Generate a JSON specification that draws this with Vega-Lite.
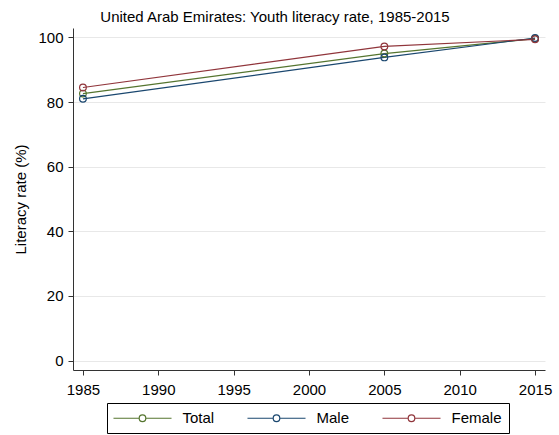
{
  "$schema": "https://vega.github.io/schema/vega-lite/v6.json",
  "width": 472,
  "height": 342,
  "autosize": {"type": "none"},
  "padding": {"left": 73, "top": 28, "right": 14, "bottom": 65},
  "background": "white",
  "title": {
    "text": "United Arab Emirates: Youth literacy rate, 1985-2015",
    "font": "Liberation Sans",
    "fontSize": 15,
    "fontWeight": "normal",
    "color": "black",
    "anchor": "middle",
    "frame": "group",
    "offset": 3,
    "dx": -34
  },
  "data": {
    "values": [
      {"year": 1985, "group": "Total", "rate": 82.6},
      {"year": 2005, "group": "Total", "rate": 95.0},
      {"year": 2015, "group": "Total", "rate": 99.6},
      {"year": 1985, "group": "Male", "rate": 81.0},
      {"year": 2005, "group": "Male", "rate": 93.8},
      {"year": 2015, "group": "Male", "rate": 99.8},
      {"year": 1985, "group": "Female", "rate": 84.5},
      {"year": 2005, "group": "Female", "rate": 97.2},
      {"year": 2015, "group": "Female", "rate": 99.4}
    ]
  },
  "mark": {
    "type": "line",
    "strokeWidth": 1.2,
    "point": {"filled": false, "size": 45, "strokeWidth": 1.2}
  },
  "encoding": {
    "x": {
      "field": "year",
      "type": "quantitative",
      "scale": {"domain": [1984.34, 2015.66], "nice": false, "zero": false},
      "axis": {
        "title": null,
        "values": [1985, 1990, 1995, 2000, 2005, 2010, 2015],
        "format": "d",
        "grid": false,
        "labelPadding": 7
      }
    },
    "y": {
      "field": "rate",
      "type": "quantitative",
      "scale": {"domain": [-2.9, 102.9], "nice": false, "zero": false},
      "axis": {
        "title": "Literacy rate (%)",
        "values": [0, 20, 40, 60, 80, 100],
        "grid": true,
        "labelPadding": 5,
        "titlePadding": 9
      }
    },
    "color": {
      "field": "group",
      "type": "nominal",
      "scale": {
        "domain": ["Total", "Male", "Female"],
        "range": ["#55752f", "#1a476f", "#90353b"]
      },
      "legend": {
        "title": null,
        "orient": "none",
        "legendX": 34,
        "legendY": 375,
        "direction": "horizontal",
        "symbolType": "M-3.87,0H-0.44M0.44,0H3.87M-0.44,0A0.44,0.44,0,1,0,0.44,0A0.44,0.44,0,1,0,-0.44,0",
        "symbolSize": 225,
        "symbolOffset": 20.5,
        "symbolStrokeWidth": 1.2,
        "symbolFillColor": "transparent",
        "labelFont": "Liberation Sans",
        "labelFontSize": 15,
        "labelColor": "black",
        "labelOffset": 31.5,
        "columnPadding": 30,
        "padding": 6.5,
        "strokeColor": "black"
      }
    }
  },
  "config": {
    "view": {"stroke": null},
    "font": "Liberation Sans",
    "axis": {
      "labelFont": "Liberation Sans",
      "labelFontSize": 15,
      "labelColor": "black",
      "titleFont": "Liberation Sans",
      "titleFontSize": 15,
      "titleFontWeight": "normal",
      "titleColor": "black",
      "domainColor": "#333333",
      "tickColor": "#333333",
      "tickSize": 5,
      "gridColor": "#e8e8e8",
      "gridWidth": 1
    }
  }
}
